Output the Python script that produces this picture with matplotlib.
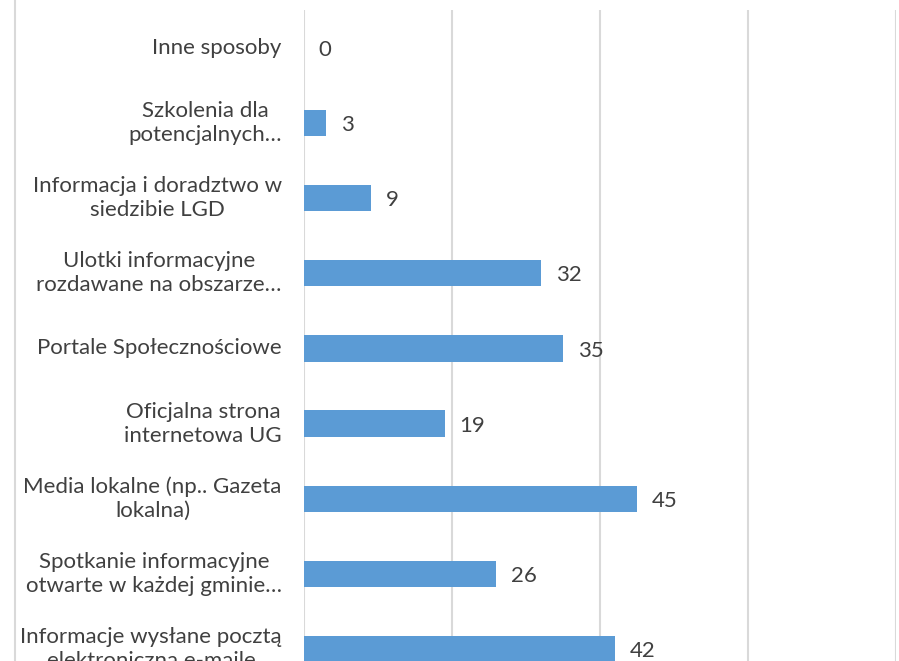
import matplotlib.pyplot as plt
from matplotlib.lines import Line2D

categories = [
    "Inne sposoby",
    "Szkolenia dla\npotencjalnych…",
    "Informacja i doradztwo w\nsiedzibie LGD",
    "Ulotki informacyjne\nrozdawane na obszarze…",
    "Portale Społecznościowe",
    "Oficjalna strona\ninternetowa UG",
    "Media lokalne (np.. Gazeta\nlokalna)",
    "Spotkanie informacyjne\notwarte w każdej gminie…",
    "Informacje wysłane pocztą\nelektroniczną e-maile",
]
values = [0, 3, 9, 32, 35, 19, 45, 26, 42]
x_ticks = [0, 20, 40, 60, 80]

W, H = 899, 661
fig = plt.figure(figsize=(W / 100, H / 100), dpi=100)
plt.rcParams["font.family"] = ["Lato", "DejaVu Sans"]

# axes: x=0 at 304px, x=80 at 896px; top at 10px, spacing ~75.2px per category
left, right = 304, 896
top = 10
step = 75.2
bottom = top + step * len(categories)
ax = fig.add_axes([left / W, 1 - bottom / H, (right - left) / W, (bottom - top) / H])

pos = list(range(len(categories)))
ax.barh(pos, values, height=0.35, color="#5b9bd5", zorder=3)
for p, v in zip(pos, values):
    ax.text(v + 2.0, p + 0.03, str(v), va="center", ha="left",
            fontsize=16, color="#404040")

ax.set_xlim(0, 80)
ax.set_ylim(len(categories) - 0.5, -0.5)
ax.set_xticks(x_ticks)
ax.set_xticklabels([])
ax.grid(axis="x", color="#d9d9d9", linewidth=1.5, zorder=0)
ax.set_yticks(pos)
ax.set_yticklabels([])
ax.tick_params(length=0)
for s in ax.spines.values():
    s.set_visible(False)

for p, c in zip(pos, categories):
    ax.text(-3.0, p, c, ha="right", va="center", multialignment="center",
            fontsize=16, color="#404040", linespacing=1.25)

# outer chart border on the left
fig.add_artist(Line2D([14.5 / W, 14.5 / W], [0, 1], transform=fig.transFigure,
                      color="#d9d9d9", linewidth=1.5))

fig.savefig("out.png", dpi=100)
